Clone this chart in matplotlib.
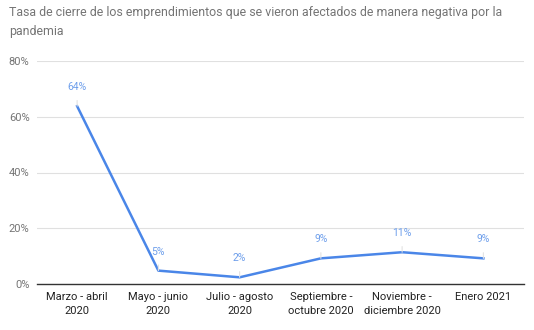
import matplotlib
matplotlib.use("Agg")
import matplotlib.pyplot as plt

categories = ["Marzo - abril\n2020", "Mayo - junio\n2020", "Julio - agosto\n2020",
              "Septiembre -\noctubre 2020", "Noviembre -\ndiciembre 2020", "Enero 2021"]
values = [63.8, 4.8, 2.4, 9.2, 11.4, 9.2]
labels = ["64%", "5%", "2%", "9%", "11%", "9%"]
yticks = [0, 20, 40, 60, 80]

plt.rcParams['font.family'] = ['Roboto', 'DejaVu Sans']

fig = plt.figure(figsize=(5.34, 3.30), dpi=100)
ax = fig.add_axes([36.5/534, 1 - 284/330, (524 - 36.5)/534, (284 - 61)/330])

x = list(range(len(categories)))
ax.plot(x, values, color="#4a86e8", lw=1.8, zorder=3)

for xi, v, lab in zip(x, values, labels):
    ax.annotate(lab, xy=(xi, v), xytext=(0, 19), textcoords="offset pixels",
                ha="center", va="center", fontsize=7.5, color="#6d9eeb",
                arrowprops=dict(arrowstyle="-", color="#e3e3e3", lw=0.8,
                                shrinkA=4, shrinkB=0))

ax.set_xlim(-0.5, len(categories) - 0.5)
ax.set_ylim(0, 80)
ax.set_yticks(yticks)
ax.set_yticklabels([f"{t}%" for t in yticks], fontsize=8, color="#757575")
ax.set_xticks(x)
ax.set_xticklabels(categories, fontsize=8, color="#222222", linespacing=1.4)
ax.tick_params(axis="both", length=0, pad=6)
ax.tick_params(axis="y", pad=5)

ax.grid(axis="y", color="#e0e0e0", lw=0.8)
ax.set_axisbelow(True)
for s in ["top", "right", "left"]:
    ax.spines[s].set_visible(False)
ax.spines["bottom"].set_color("#333333")
ax.spines["bottom"].set_linewidth(1.0)

fig.text(9/534, 1 - 6/330, "Tasa de cierre de los emprendimientos que se vieron afectados de manera negativa por la\npandemia",
         ha="left", va="top", fontsize=8.95, color="#757575", linespacing=1.65)

fig.savefig("out.png", dpi=100, facecolor="white")
